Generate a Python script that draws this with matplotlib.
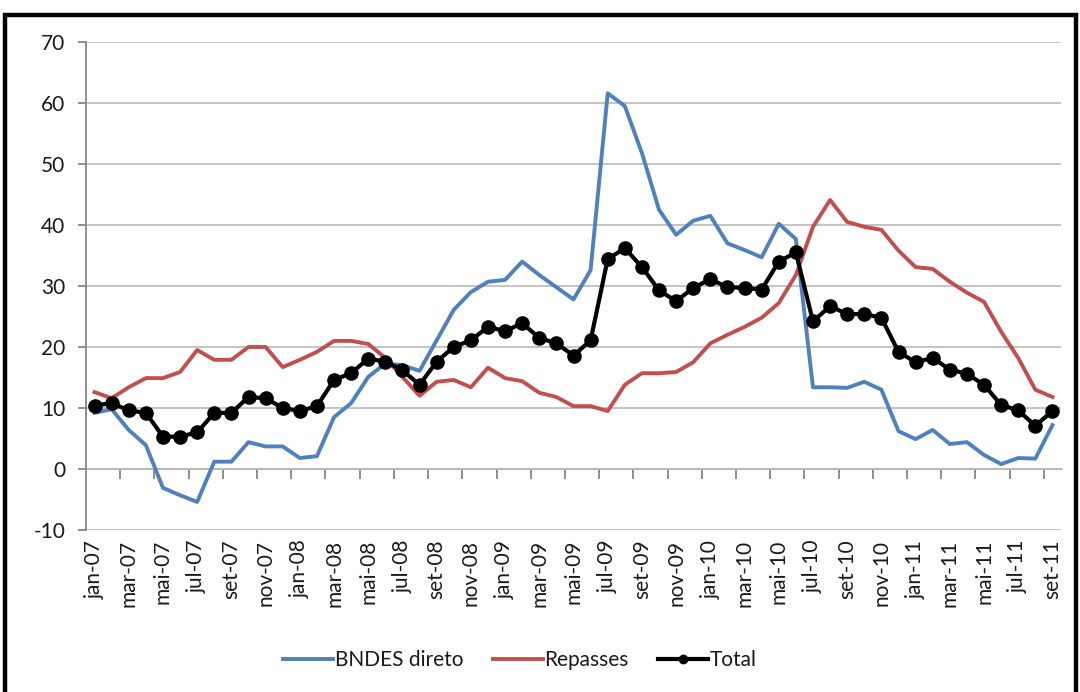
import numpy as np
import matplotlib
matplotlib.use("Agg")
import matplotlib.pyplot as plt
from matplotlib.patches import Rectangle
from matplotlib.lines import Line2D

plt.rcParams['font.family'] = ['Lato', 'DejaVu Sans']

# Monthly series, jan-07 .. set-11
meses = ["jan", "fev", "mar", "abr", "mai", "jun",
         "jul", "ago", "set", "out", "nov", "dez"]
anos = ["07", "08", "09", "10", "11"]
categorias = [f"{m}-{a}" for a in anos for m in meses][:57]

bndes_direto = [9.2, 9.8, 6.4, 3.9, -3.1, -4.3, -5.4, 1.2, 1.2, 4.4,
                3.7, 3.7, 1.8, 2.1, 8.5, 10.8, 15.1, 17.3, 17.0, 16.1,
                21.1, 26.1, 29.0, 30.7, 31.0, 34.0, 31.8, 29.8, 27.8, 32.6,
                61.6, 59.5, 51.8, 42.5, 38.4, 40.7, 41.5, 37.0, 35.9, 34.7,
                40.2, 37.7, 13.4, 13.4, 13.3, 14.3, 13.0, 6.2, 4.9, 6.4,
                4.1, 4.4, 2.3, 0.8, 1.8, 1.7, 7.2]

repasses = [12.6, 11.6, 13.4, 14.9, 14.9, 15.9, 19.5, 17.9, 17.9, 20.0,
            20.0, 16.7, 17.9, 19.2, 21.0, 21.0, 20.5, 18.2, 15.1, 12.0,
            14.3, 14.6, 13.4, 16.6, 14.9, 14.4, 12.5, 11.8, 10.3, 10.3,
            9.5, 13.8, 15.7, 15.7, 15.9, 17.5, 20.6, 22.0, 23.3, 24.8,
            27.2, 31.8, 39.7, 44.1, 40.5, 39.7, 39.2, 35.8, 33.1, 32.8,
            30.7, 28.9, 27.4, 22.5, 18.2, 13.0, 11.8]

total = [10.4, 10.8, 9.6, 9.2, 5.3, 5.3, 6.0, 9.2, 9.2, 11.8,
         11.6, 10.0, 9.5, 10.3, 14.6, 15.7, 18.1, 17.6, 16.2, 13.8,
         17.6, 20.0, 21.1, 23.3, 22.6, 23.9, 21.5, 20.6, 18.6, 21.1,
         34.4, 36.2, 33.1, 29.3, 27.5, 29.7, 31.1, 29.8, 29.7, 29.4,
         34.0, 35.5, 24.2, 26.7, 25.4, 25.4, 24.8, 19.2, 17.5, 18.2,
         16.3, 15.6, 13.8, 10.5, 9.6, 7.1, 9.5]

y_ticks = list(range(-10, 80, 10))

AZUL = "#4F81BD"
VERMELHO = "#C0504D"
CINZA_GRADE = "#BFBFBF"
CINZA_EIXO = "#868686"
TEXTO = "#1a1a1a"

fig = plt.figure(figsize=(10.8, 6.92), dpi=100)
fig.patch.set_facecolor("white")
ax = fig.add_axes([86 / 1080, 1 - 530 / 692, (1061 - 86) / 1080, (530 - 42) / 692])

x = np.arange(len(categorias))
ax.plot(x, bndes_direto, color=AZUL, lw=2.8, solid_joinstyle="round", zorder=3)
ax.plot(x, repasses, color=VERMELHO, lw=2.8, solid_joinstyle="round", zorder=3)
ax.plot(x, total, color="black", lw=3.0, marker="o", ms=9.5, zorder=4)

ax.set_xlim(-0.5, len(categorias) - 0.5)
ax.set_ylim(-10, 70)
ax.set_yticks(y_ticks)
ax.set_yticklabels([str(v) for v in y_ticks])
ax.yaxis.grid(True, color=CINZA_GRADE, lw=1.3)
ax.set_axisbelow(True)

for s in ("top", "right", "bottom"):
    ax.spines[s].set_visible(False)
ax.spines["left"].set_color(CINZA_EIXO)
ax.spines["left"].set_linewidth(1.3)
ax.tick_params(axis="y", direction="out", length=6, width=1.3, color=CINZA_EIXO,
               labelsize=15, labelcolor=TEXTO, pad=9)

# Category labels every two months along the bottom
ax.set_xticks(x[::2])
ax.set_xticklabels(categorias[::2], rotation=90, fontsize=15, color=TEXTO)
ax.tick_params(axis="x", length=0, pad=7)

# Category axis line at zero with tick marks between every other category
zero_frac = (0 - (-10)) / (70 - (-10))
sec = ax.secondary_xaxis(zero_frac)
sec.set_xticks(np.arange(1.5, len(categorias) - 0.5, 2))
sec.set_xticklabels([])
sec.spines["bottom"].set_color(CINZA_EIXO)
sec.spines["bottom"].set_linewidth(1.3)
sec.tick_params(axis="x", direction="out", length=7, width=1.3, color=CINZA_EIXO)

handles = [
    Line2D([], [], color=AZUL, lw=2.8),
    Line2D([], [], color=VERMELHO, lw=2.8),
    Line2D([], [], color="black", lw=3.0, marker="o", ms=6),
]
fig.legend(handles, ["BNDES direto", "Repasses", "Total"], loc="center",
           bbox_to_anchor=(520 / 1080, 1 - 660 / 692), ncol=3, frameon=False,
           fontsize=15, handlelength=2.4, handletextpad=0.1, columnspacing=1.4,
           labelcolor=TEXTO)

# Outer frame of the chart
fig.patches.append(Rectangle((5 / 1080, -0.05), (1076 - 5) / 1080, 1 - 15 / 692 + 0.05,
                             transform=fig.transFigure, fill=False,
                             edgecolor="black", lw=3.2, zorder=10))

fig.savefig("out.png", dpi=100)
